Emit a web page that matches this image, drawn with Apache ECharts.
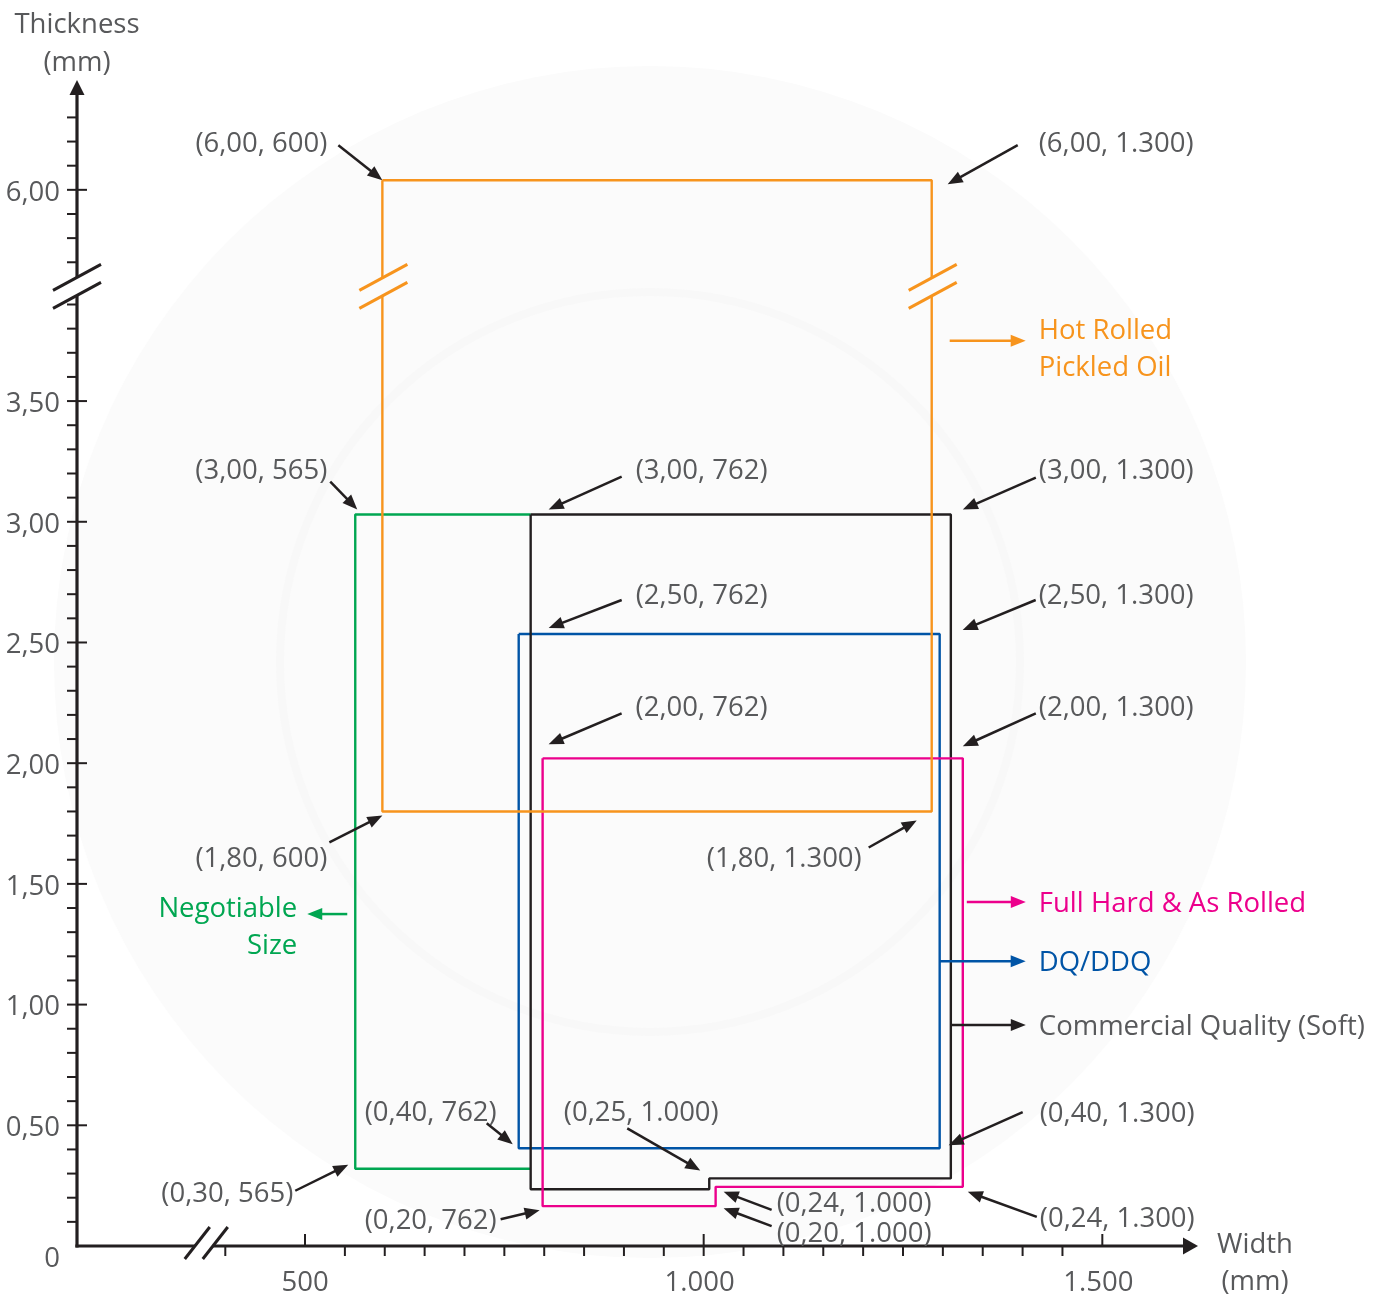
<!DOCTYPE html>
<html>
<head>
<meta charset="utf-8">
<script src="https://cdn.jsdelivr.net/npm/echarts@6/dist/echarts.min.js"></script>
<style>html,body{margin:0;padding:0;background:#fff}#c{width:1385px;height:1297px}</style>
</head>
<body>
<div id="c"></div>
<script>
// ---------------- DATA (width mm, thickness mm) ----------------
const hotRolledPickledOil = [[597, 6.04], [1286, 6.04], [1286, 1.80], [597, 1.80], [597, 6.04]];
const negotiableSize      = [[783, 3.03], [563, 3.03], [563, 0.32], [783, 0.32]];
const commercialQuality   = [[783, 3.03], [1310, 3.03], [1310, 0.28], [1007, 0.28], [1007, 0.235], [783, 0.235], [783, 3.03]];
const dqDdq               = [[768, 2.535], [1296, 2.535], [1296, 0.405], [768, 0.405], [768, 2.535]];
const fullHardAsRolled    = [[798, 2.02], [1325, 2.02], [1325, 0.245], [1015, 0.245], [1015, 0.165], [798, 0.165], [798, 2.02]];

const xMajorTicks  = [500, 1000, 1500];
const xMajorLabels = ['500', '1.000', '1.500'];
const xMinorTicks  = [400, 550, 600, 650, 700, 750, 800, 850, 900, 950, 1050, 1100, 1150, 1200, 1250, 1300, 1350, 1400, 1450];
const yMajorTicks  = [0, 0.5, 1.0, 1.5, 2.0, 2.5, 3.0, 3.5, 6.0];
const yMajorLabels = ['0', '0,50', '1,00', '1,50', '2,00', '2,50', '3,00', '3,50', '6,00'];
const yMinorUpper  = [5.7, 5.8, 5.9, 6.1, 6.2, 6.3];

// ---------------- AXIS SETUP (broken axes) ----------------
const W_MIN = 214, W_MAX = 1620;      // visible width range
const T_TOP = 4.83;                   // internal top of thickness axis
const UPPER_SHIFT = 1.625;            // thickness above the break is shifted down
const BREAK_C = 3.975;                // internal position of the thickness break
const X_BREAK = 373;                  // width position of the width-axis break
const GAP = 0.0373;                   // half gap of the break (internal units)
function ty(v) { return v > 4.5 ? v - UPPER_SHIFT : v; }

const yMinorTicks = [];
for (let i = 1; i <= 39; i++) { if (i % 5 !== 0) yMinorTicks.push(i / 10); }
yMinorUpper.forEach(v => yMinorTicks.push(v));

function toSeriesData(pts) {
  const out = [];
  for (let i = 0; i < pts.length; i++) {
    const [x, y] = pts[i];
    if (i > 0) {
      const py = pts[i - 1][1];
      if ((py > 4.5 && y < 4) || (py < 4 && y > 4.5)) {
        const down = py > y;
        out.push([x, down ? BREAK_C + GAP : BREAK_C - GAP]);
        out.push([x, '-']);
        out.push([x, down ? BREAK_C - GAP : BREAK_C + GAP]);
      }
    }
    out.push([x, ty(y)]);
  }
  return out;
}

const COL = {
  orange: '#f7941d', green: '#00a651', black: '#231f20', blue: '#0054a6', pink: '#ec008c',
  text: '#58595b', arrow: '#231f20'
};
const FONT = '27.5px "Open Sans", "DejaVu Sans", sans-serif';
const TY = 2; // small vertical text nudge

// ---------------- ANNOTATIONS (offsets in px from anchor) ----------------
const annotations = [
  { text: '(6,00, 600)',   at: hotRolledPickledOil[0], tip: [0, 0],    tail: [-44, -35], label: [-55, -38], align: 'right' },
  { text: '(6,00, 1.300)', at: hotRolledPickledOil[1], tip: [16, 4],   tail: [86, -35],  label: [107, -38], align: 'left' },
  { text: '(3,00, 565)',   at: negotiableSize[1],      tip: [2, -5],   tail: [-25, -33], label: [-28, -45], align: 'right' },
  { text: '(3,00, 762)',   at: commercialQuality[0],   tip: [18, -5],  tail: [91, -38],  label: [105, -45], align: 'left' },
  { text: '(3,00, 1.300)', at: commercialQuality[1],   tip: [12, -5],  tail: [85, -37],  label: [88, -45],  align: 'left' },
  { text: '(2,50, 762)',   at: dqDdq[0],               tip: [30, -6],  tail: [103, -34], label: [117, -40], align: 'left' },
  { text: '(2,50, 1.300)', at: dqDdq[1],               tip: [23, -4],  tail: [96, -34],  label: [99, -40],  align: 'left' },
  { text: '(2,00, 762)',   at: fullHardAsRolled[0],    tip: [6, -14],  tail: [79, -45],  label: [93, -52],  align: 'left' },
  { text: '(2,00, 1.300)', at: fullHardAsRolled[1],    tip: [0, -12],  tail: [73, -45],  label: [76, -52],  align: 'left' },
  { text: '(1,80, 600)',   at: hotRolledPickledOil[3], tip: [0, 4],    tail: [-53, 31],  label: [-55, 46],  align: 'right' },
  { text: '(1,80, 1.300)', at: hotRolledPickledOil[2], tip: [-15, 9],  tail: [-63, 36],  label: [-70, 46],  align: 'right' },
  { text: '(0,40, 762)',   at: dqDdq[3],               tip: [-6, -4],  tail: [-32, -25], label: [-22, -37], align: 'right' },
  { text: '(0,25, 1.000)', at: commercialQuality[3],   tip: [-9, -8],  tail: [-82, -50], label: [-68, -67], align: 'center' },
  { text: '(0,24, 1.000)', at: fullHardAsRolled[3],    tip: [8, 5],    tail: [56, 23],   label: [61, 15],   align: 'left' },
  { text: '(0,20, 1.000)', at: fullHardAsRolled[4],    tip: [8, 2],    tail: [56, 20],   label: [61, 26],   align: 'left' },
  { text: '(0,20, 762)',   at: fullHardAsRolled[5],    tip: [-3, 4],   tail: [-42, 13],  label: [-46, 13],  align: 'right' },
  { text: '(0,30, 565)',   at: negotiableSize[2],      tip: [-7, -4],  tail: [-60, 22],  label: [-62, 23],  align: 'right' },
  { text: '(0,40, 1.300)', at: dqDdq[2],               tip: [9, -3],   tail: [83, -36],  label: [100, -36], align: 'left' },
  { text: '(0,24, 1.300)', at: fullHardAsRolled[2],    tip: [5, 5],    tail: [74, 30],   label: [77, 30],   align: 'left' },
  // series labels
  { text: 'Hot Rolled\nPickled Oil', at: [hotRolledPickledOil[1][0], 3.75], tip: [94, 0], tail: [18, 0], label: [107, 6.5], align: 'left', color: COL.orange, arrowColor: COL.orange },
  { text: 'Negotiable\nSize', at: [negotiableSize[1][0], 1.375], tip: [-48, 0], tail: [-8, 0], label: [-58, 11.5], align: 'right', color: COL.green, arrowColor: COL.green },
  { text: 'Full Hard & As Rolled', at: [fullHardAsRolled[1][0], 1.425], tip: [63, 0], tail: [4, 0], label: [76, 0], align: 'left', color: COL.pink, arrowColor: COL.pink },
  { text: 'DQ/DDQ', at: [dqDdq[1][0], 1.18], tip: [86, 0], tail: [0, 0], label: [99, 0], align: 'left', color: COL.blue, arrowColor: COL.blue },
  { text: 'Commercial Quality (Soft)', at: [commercialQuality[1][0], 0.915], tip: [75, 0], tail: [0, 0], label: [88, 0], align: 'left', color: COL.text, arrowColor: COL.arrow }
];

// ---------------- RENDER HELPERS ----------------
function seg(x1, y1, x2, y2, color, w) {
  return { type: 'line', shape: { x1, y1, x2, y2 }, style: { stroke: color, lineWidth: w } };
}
function txt(s, x, y, align, color, lh) {
  return { type: 'text', style: { text: s, x, y: y + TY, fill: color, font: FONT, align, textAlign: align,
    verticalAlign: 'middle', textVerticalAlign: 'middle', lineHeight: lh || 37 } };
}
function arrow(x1, y1, x2, y2, color) {
  const dx = x2 - x1, dy = y2 - y1, len = Math.sqrt(dx * dx + dy * dy);
  const ux = dx / len, uy = dy / len, nx = -uy, ny = ux;
  const L = 15, H = 6;
  const bx = x2 - ux * L, by = y2 - uy * L;
  return [
    seg(x1, y1, bx + ux * 2, by + uy * 2, color, 2.5),
    { type: 'polygon', shape: { points: [[x2, y2], [bx + nx * H, by + ny * H], [bx - nx * H, by - ny * H]] }, style: { fill: color } }
  ];
}
function vBreak(cx, cy, color) {
  return [
    seg(cx - 24, cy - 9 + 13, cx + 24, cy - 9 - 13, color, 3),
    seg(cx - 24, cy + 9 + 13, cx + 24, cy + 9 - 13, color, 3)
  ];
}

function renderAll(params, api) {
  const ch = [];
  const C = (x, yi) => api.coord([x, yi]);
  const o = C(W_MIN, 0), top = C(W_MIN, T_TOP), xe = C(W_MAX, 0);
  const bc = C(W_MIN, BREAK_C);
  const xb = C(X_BREAK, 0);
  const AX = COL.black, AW = 3.2;

  // y axis
  ch.push(seg(o[0], o[1] + AW / 2, o[0], bc[1] + 9, AX, AW));
  ch.push(seg(o[0], bc[1] - 9, o[0], top[1] + 12, AX, AW));
  ch.push({ type: 'polygon', shape: { points: [[o[0], top[1]], [o[0] - 7.5, top[1] + 15], [o[0] + 7.5, top[1] + 15]] }, style: { fill: AX } });
  vBreak(o[0], bc[1], AX).forEach(e => ch.push(e));
  // x axis
  ch.push(seg(o[0] - AW / 2, o[1], xb[0] - 9, o[1], AX, AW));
  ch.push(seg(xb[0] + 9, o[1], xe[0] - 12, o[1], AX, AW));
  ch.push({ type: 'polygon', shape: { points: [[xe[0], o[1]], [xe[0] - 15, o[1] - 8.5], [xe[0] - 15, o[1] + 8.5]] }, style: { fill: AX } });
  ch.push(seg(xb[0] - 19, o[1] + 13, xb[0] + 6, o[1] - 19, AX, 3));
  ch.push(seg(xb[0] - 1, o[1] + 13, xb[0] + 24, o[1] - 19, AX, 3));

  // y ticks
  yMinorTicks.forEach(v => { const p = C(W_MIN, ty(v)); ch.push(seg(p[0] - 10, p[1], p[0], p[1], AX, 2)); });
  yMajorTicks.forEach((v, i) => {
    const p = C(W_MIN, ty(v));
    if (v !== 0) ch.push(seg(p[0] - 10, p[1], p[0] + 10, p[1], AX, 2));
    ch.push(txt(yMajorLabels[i], p[0] - 17, p[1] + (v === 0 ? 11 : 1), 'right', COL.text));
  });
  // x ticks
  xMinorTicks.forEach(v => { const p = C(v, 0); ch.push(seg(p[0], p[1], p[0], p[1] + 10, AX, 2)); });
  xMajorTicks.forEach((v, i) => {
    const p = C(v, 0);
    ch.push(seg(p[0], p[1] - 12, p[0], p[1] + (v === 1000 ? 10 : 0), AX, 2));
    ch.push(txt(xMajorLabels[i], p[0] - (v === 500 ? 0 : 4), p[1] + 35, 'center', COL.text));
  });
  // axis titles
  ch.push(txt('Thickness\n(mm)', top[0], top[1] - 38, 'center', COL.text, 38));
  ch.push(txt('Width\n(mm)', xe[0] + 57, o[1] + 15.5, 'center', COL.text, 37));

  // breaks on the hot rolled box
  [hotRolledPickledOil[0][0], hotRolledPickledOil[1][0]].forEach(x => {
    const p = C(x, BREAK_C);
    vBreak(p[0] + 1, p[1], COL.orange).forEach(e => ch.push(e));
  });

  // annotations
  annotations.forEach(a => {
    const p = C(a.at[0], ty(a.at[1]));
    arrow(p[0] + a.tail[0], p[1] + a.tail[1], p[0] + a.tip[0], p[1] + a.tip[1], a.arrowColor || COL.arrow).forEach(e => ch.push(e));
    ch.push(txt(a.text, p[0] + a.label[0], p[1] + a.label[1], a.align, a.color || COL.text, 37));
  });
  return { type: 'group', children: ch };
}

function lineSeries(name, pts, color) {
  return {
    name, type: 'line', data: toSeriesData(pts), symbol: 'none', silent: true,
    connectNulls: false, lineStyle: { color, width: 2.4 }, itemStyle: { color }, z: 3
  };
}

const chart = echarts.init(document.getElementById('c'), null, { renderer: 'canvas' });
chart.setOption({
  animation: false,
  backgroundColor: '#ffffff',
  grid: { left: 77, right: 187, top: 80, bottom: 51, containLabel: false },
  xAxis: { type: 'value', min: W_MIN, max: W_MAX, show: false },
  yAxis: { type: 'value', min: 0, max: T_TOP, show: false },
  graphic: [
    { type: 'circle', silent: true, z: -10, shape: { cx: 650, cy: 662, r: 596 }, style: { fill: '#fbfbfb' } },
    { type: 'circle', silent: true, z: -10, shape: { cx: 650, cy: 662, r: 370 }, style: { fill: 'none', stroke: '#f8f8f8', lineWidth: 8 } }
  ],
  series: [
    lineSeries('Negotiable Size', negotiableSize, COL.green),
    lineSeries('DQ/DDQ', dqDdq, COL.blue),
    lineSeries('Commercial Quality (Soft)', commercialQuality, COL.black),
    lineSeries('Full Hard & As Rolled', fullHardAsRolled, COL.pink),
    lineSeries('Hot Rolled Pickled Oil', hotRolledPickledOil, COL.orange),
    { type: 'custom', renderItem: renderAll, data: [[W_MIN, 0]], silent: true, clip: false, z: 10 }
  ]
});
</script>
</body>
</html>
